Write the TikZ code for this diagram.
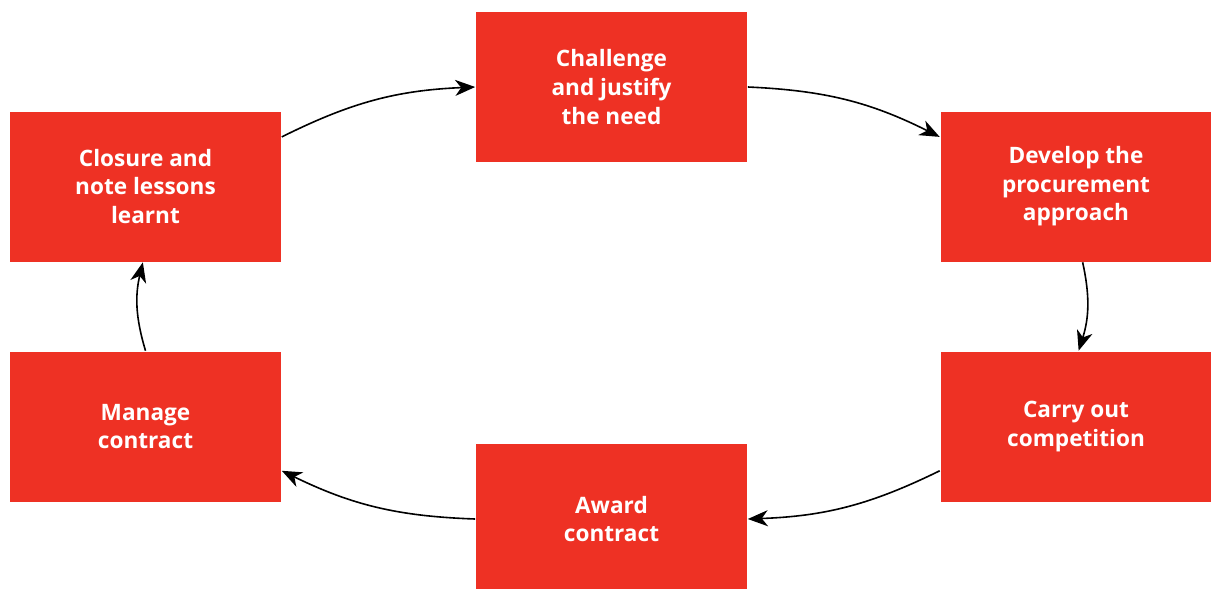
\documentclass[tikz,border=0pt]{standalone}
\usepackage{fontspec}
\setmainfont{Open Sans}
\usepackage{tikz}
\usetikzlibrary{arrows.meta}

\definecolor{boxred}{HTML}{EE3124}

\begin{document}
\begin{tikzpicture}[x=0.5pt, y=-0.5pt, line width=0.8pt,
    >={Stealth[length=10pt, width=8pt, inset=3pt]},
    stage/.style={rectangle, fill=boxred, text=white, align=center,
        minimum width=135.5pt, minimum height=75pt, inner sep=0pt,
        font=\fontsize{11.3}{14.3}\selectfont\bfseries}]

    \useasboundingbox (0,0) rectangle (1211,589);

    % Stages

    \node[stage] (challenge) at (611.5,87)  {Challenge\\and justify\\the need};
    \node[stage] (develop)   at (1076,186.5) {Develop the\\procurement\\approach};
    \node[stage] (carry)     at (1076,426.5) {Carry out\\competition};
    \node[stage] (award)     at (611.5,519) {Award\\contract};
    \node[stage] (manage)    at (145.5,426.5) {Manage\\contract};
    \node[stage] (closure)   at (145.5,186.5) {Closure and\\note lessons\\learnt};

    % Cycle

    \draw[->] (closure.20)  to[bend left=12] (challenge.west);
    \draw[->] (challenge.east) to[bend left=12] (develop.160);
    \draw[->] (develop.-85) to[bend left=15] (carry.88);
    \draw[->] (carry.-162)  to[bend left=12] (award.east);
    \draw[->] (award.west)  to[bend left=12] (manage.-18);
    \draw[->] (manage.north) to[bend left=15] (closure.-92);

\end{tikzpicture}
\end{document}
